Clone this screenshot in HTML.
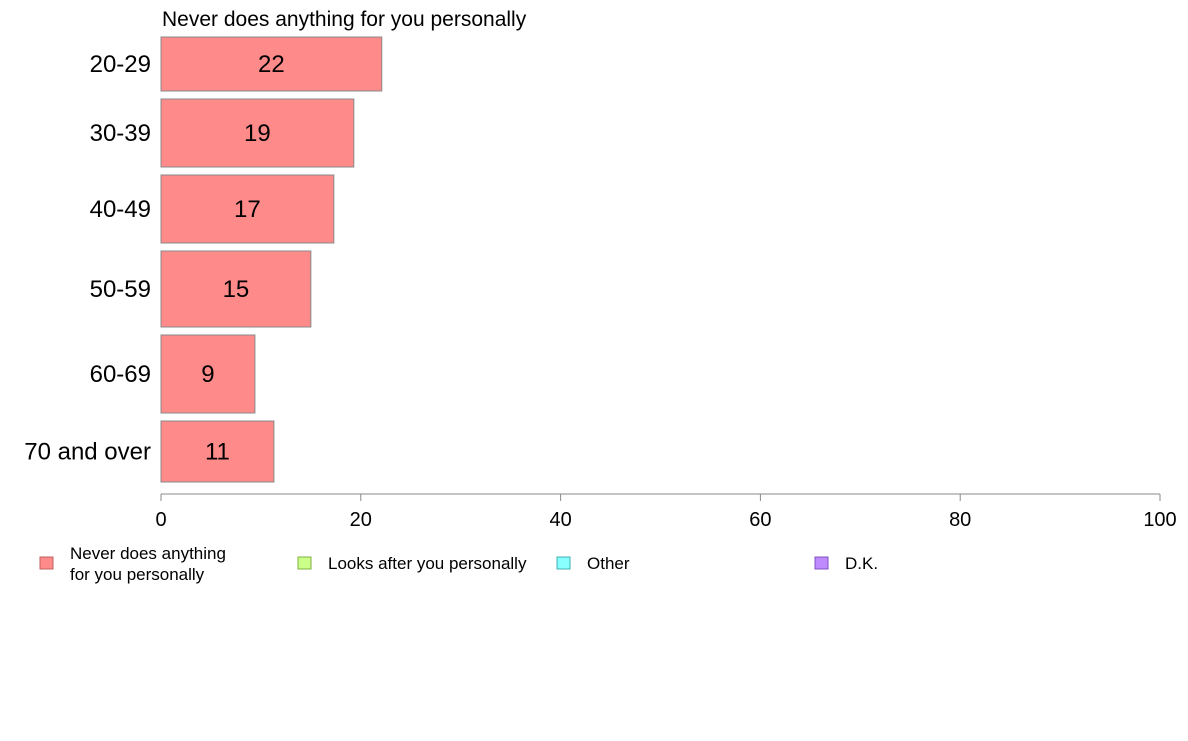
<!DOCTYPE html>
<html><head><meta charset="utf-8"><style>
body{margin:0;background:#fff;width:1188px;height:736px;overflow:hidden;font-family:"Liberation Sans",Arial,sans-serif}
</style></head><body>
<svg id="chart" width="1188" height="736" xmlns="http://www.w3.org/2000/svg" font-family="Liberation Sans, Arial, sans-serif">
<text x="162" y="26" font-size="21" fill="#000">Never does anything for you personally</text>
<g id="bars"></g>
<g id="axis"></g>
<g id="legend"></g>
</svg>
<script>
const categories = ["20-29","30-39","40-49","50-59","60-69","70 and over"];
const values = [22.1,19.3,17.3,15.0,9.4,11.3];
const labels = ["22","19","17","15","9","11"];
const weights = [54,68,68,76,78,61];
const ticks = [0,20,40,60,80,100];
const legendItems = ["Never does anything|for you personally","Looks after you personally","Other","D.K."];
const legendColors = ["#ff8a8a","#ccff8a","#8affff","#c08aff"];
const legendStroke = ["#c06060","#80b040","#40b0b0","#8050c0"];

const NS="http://www.w3.org/2000/svg";
const x0=161,x1=1160,top0=37,gap=8;
const xs=v=>x0+(v/100)*(x1-x0);
function mk(t,a,p){const e=document.createElementNS(NS,t);for(const k in a)e.setAttribute(k,a[k]);p.appendChild(e);return e;}
const bars=document.getElementById('bars');
let y=top0;
categories.forEach((c,i)=>{
  const h=weights[i];
  const r=mk('rect',{x:x0,y:y,width:xs(values[i])-x0,height:h,fill:'#ff8a8a',stroke:'#888','stroke-width':1},bars);
  
  
  const t=mk('text',{x:(x0+xs(values[i]))/2,y:y+h/2+8,'font-size':24,'text-anchor':'middle',fill:'#000'},bars);
  t.textContent=labels[i];
  
  
  const l=mk('text',{x:151,y:y+h/2+8,'font-size':24,'text-anchor':'end',fill:'#000'},bars);
  l.textContent=c;
  
  
  y+=h+gap;
});
const axis=document.getElementById('axis');
const al=mk('line',{x1:x0,x2:x1,y1:494,y2:494,stroke:'#888'},axis);


ticks.forEach(v=>{
  const tl=mk('line',{x1:xs(v),x2:xs(v),y1:494,y2:501,stroke:'#888'},axis);
  
  
  const tt=mk('text',{x:xs(v),y:526,'font-size':20,'text-anchor':'middle',fill:'#000'},axis);
  tt.textContent=v;
  
  
});
const leg=document.getElementById('legend');
const lx=[40,298,557,815];
legendItems.forEach((s,i)=>{
  const g=mk('g',{},leg);
  
  
  mk('rect',{x:lx[i],y:557,width:13,height:12,fill:legendColors[i],stroke:legendStroke[i]},g);
  const parts=s.split('|');
  parts.forEach((p,j)=>{
    const t=mk('text',{x:lx[i]+30,y:(parts.length>1?559:569)+j*21,'font-size':17,fill:'#000'},g);
    t.textContent=p;
  });
});
</script>
</body></html>
